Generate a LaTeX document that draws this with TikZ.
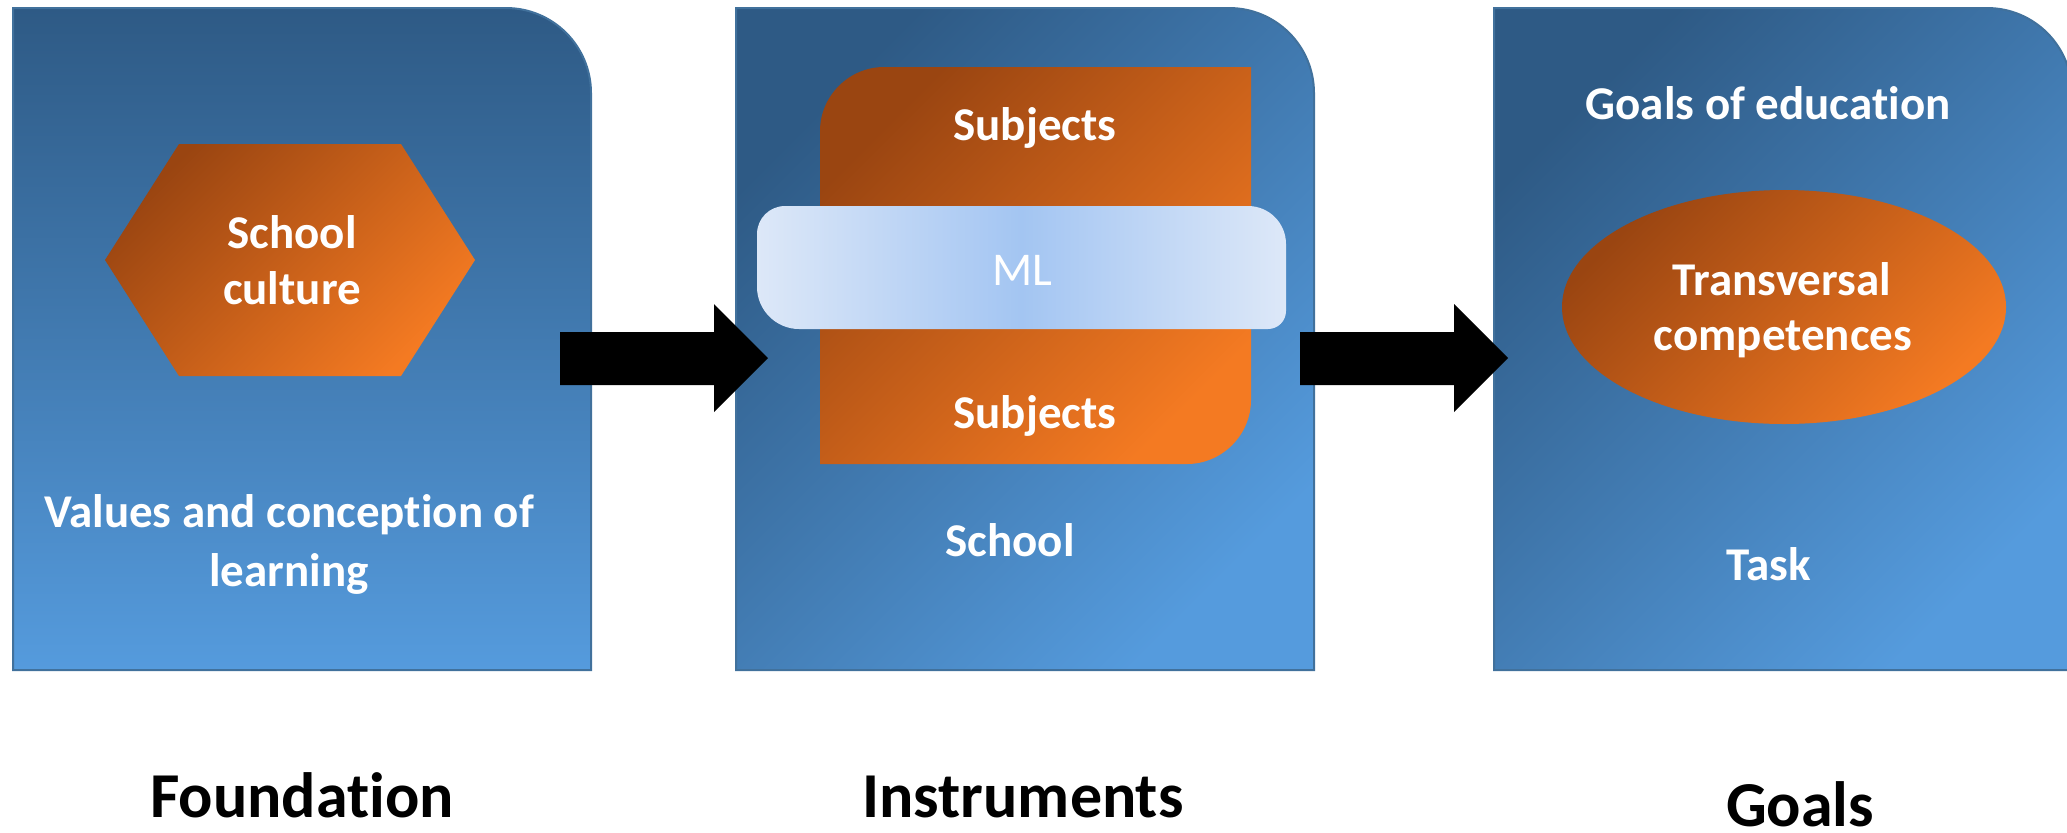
\documentclass[tikz,border=0pt]{standalone}
\usepackage{fontspec}
\setmainfont{Carlito}[Ligatures=NoCommon]
\usetikzlibrary{calc}
\definecolor{bluedark}{HTML}{2E5A85}
\definecolor{bluelight}{HTML}{559BDD}
\definecolor{blueedge}{HTML}{41719C}
\definecolor{ordark}{HTML}{9A4511}
\definecolor{orlight}{HTML}{F47A22}
\definecolor{mlcenter}{HTML}{A3C5F2}
\definecolor{mledge}{HTML}{DDE8F8}
\tikzset{
  panel/.style={draw=blueedge, line width=1pt},
  vshade/.style={top color=bluedark, bottom color=bluelight},
  dshade/.style={top color=bluedark, bottom color=bluelight, shading angle=45},
  oshade/.style={top color=ordark, bottom color=orlight, shading angle=45},
  mlshade/.style={left color=mledge, right color=mledge, middle color=mlcenter},
  whitelabel/.style={text=white, font=\fontsize{23.5}{28}\selectfont\bfseries, inner sep=0pt, anchor=base},
  mltext/.style={text=white, font=\fontsize{23.5}{28}\selectfont, inner sep=0pt, anchor=base},
  caption/.style={text=black, font=\fontsize{32}{38}\selectfont\bfseries, inner sep=0pt, anchor=base},
  blockarrow/.style={fill=black}
}
\newcommand\barrow[2]{%
  \fill[blockarrow] ($(#1)+(0,-26)$) -- ($(#2)+(-54,-26)$) -- ($(#2)+(-54,-54)$) -- (#2)
    -- ($(#2)+(-54,54)$) -- ($(#2)+(-54,27)$) -- ($(#1)+(0,27)$) -- cycle;}
\begin{document}
\begin{tikzpicture}[x=0.5pt,y=-0.5pt]
\useasboundingbox (0,0) rectangle (2067,832);
% panels
\shade[panel,vshade] (13,8) -- (506,8) .. controls (553,8) and (591,46) .. (591,93) -- (591,670) -- (13,670) -- cycle;
\shade[panel,dshade] (736,8) -- (1229,8) .. controls (1276,8) and (1314,46) .. (1314,93) -- (1314,670) -- (736,670) -- cycle;
\shade[panel,dshade] (1494,8) -- (1987,8) .. controls (2034,8) and (2072,46) .. (2072,93) -- (2072,670) -- (1494,670) -- cycle;
% hexagon
\shade[oshade] (105,260) -- (179,144) -- (401,144) -- (475,260) -- (401,376) -- (179,376) -- cycle;
\node[whitelabel] (sc1) at (292,248) {School};
\node[whitelabel] (sc2) at (292,304) {culture};
\node[whitelabel] (val1) at (289,527) {Values and conception of};
\node[whitelabel] (val2) at (289,586) {learning};
% subjects block
\shade[oshade] (820,464) -- (820,131) .. controls (820,96) and (849,67) .. (884,67) -- (1251,67) -- (1251,400) .. controls (1251,435) and (1222,464) .. (1187,464) -- cycle;
\node[whitelabel] (subj1) at (1035,140) {Subjects};
\node[whitelabel] (subj2) at (1035,428) {Subjects};
% ML band
\shade[mlshade] (757,234) .. controls (757,218.5) and (769.5,206) .. (785,206) -- (1248,206) .. controls (1269,206) and (1286,223) .. (1286,244) -- (1286,311) .. controls (1286,321) and (1278,329) .. (1268,329) -- (799,329) .. controls (776,329) and (757,310) .. (757,287) -- cycle;
\node[mltext] (ml) at (1022,285) {ML};
\node[whitelabel] (school) at (1010,556) {School};
% goals panel
\node[whitelabel] (goe) at (1768,119) {Goals of education};
\shade[oshade] (1784,307) ellipse [x radius=222, y radius=117];
\node[whitelabel] (tc1) at (1782,295) {Transversal};
\node[whitelabel] (tc2) at (1783,350) {competences};
\node[whitelabel] (task) at (1769,580) {Task};
% arrows
\coordinate (a1s) at (560,358);
\coordinate (a1e) at (768,358);
\coordinate (a2s) at (1300,358);
\coordinate (a2e) at (1508,358);
\barrow{a1s}{a1e}
\barrow{a2s}{a2e}
% captions
\node[caption] (cap1) at (302,817) {Foundation};
\node[caption] (cap2) at (1023,817) {Instruments};
\node[caption] (cap3) at (1800,826) {Goals};
\end{tikzpicture}
\end{document}
